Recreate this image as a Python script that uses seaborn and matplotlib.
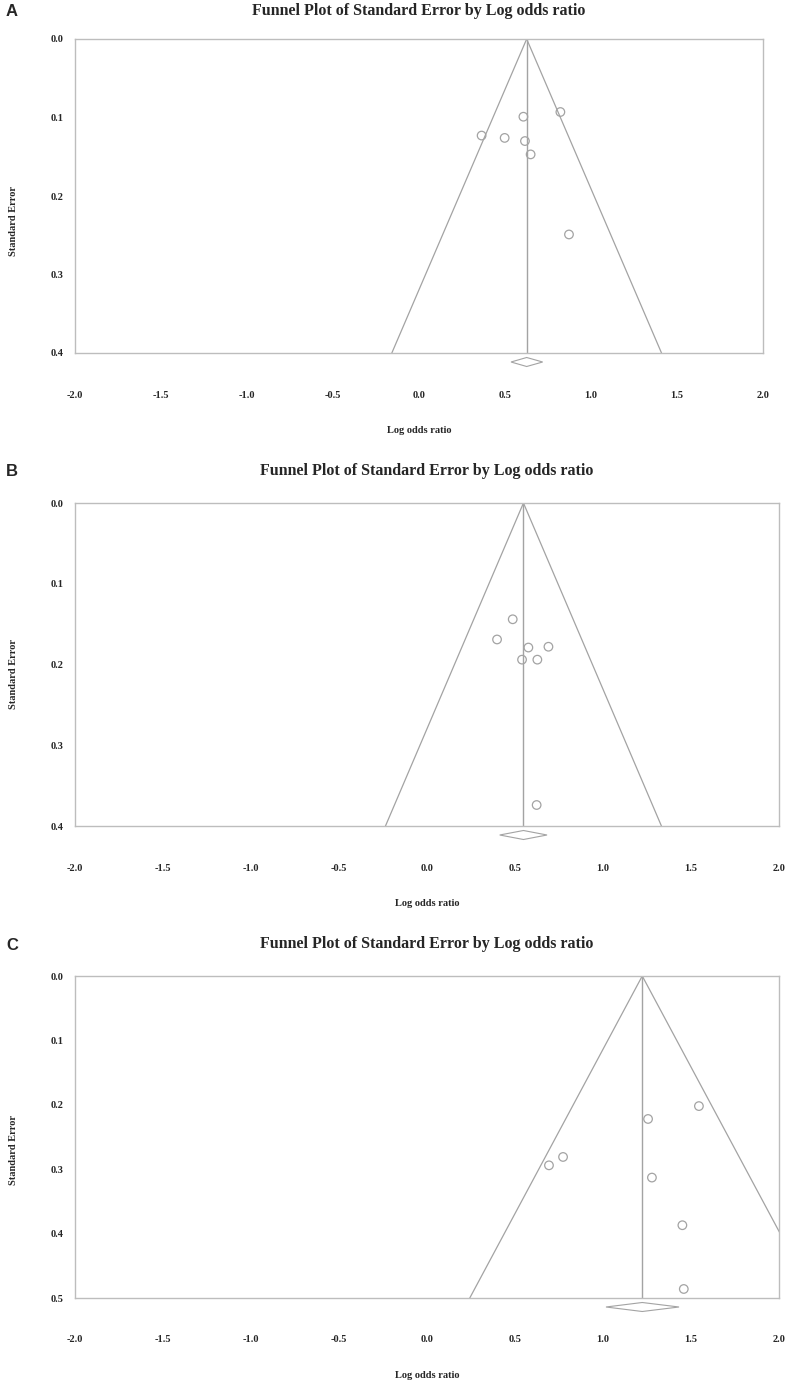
import numpy as np
import pandas as pd
import matplotlib
matplotlib.use("Agg")
import matplotlib.pyplot as plt
import matplotlib.transforms as mtransforms
from matplotlib.patches import Polygon
import seaborn as sns

# study estimates
panel_labels = ["A", "B", "C"]

a_log_or = [0.364, 0.498, 0.607, 0.616, 0.649, 0.822, 0.872]
a_se = [0.123, 0.126, 0.099, 0.130, 0.147, 0.093, 0.249]
a_pooled = 0.626
a_ci = [0.535, 0.719]

b_log_or = [0.487, 0.398, 0.576, 0.690, 0.540, 0.627, 0.623]
b_se = [0.144, 0.169, 0.179, 0.178, 0.194, 0.194, 0.374]
b_pooled = 0.548
b_ci = [0.413, 0.682]

c_log_or = [1.545, 1.256, 1.278, 1.451, 1.459, 0.773, 0.693]
c_se = [0.202, 0.222, 0.313, 0.387, 0.486, 0.281, 0.294]
c_pooled = 1.223
c_ci = [1.017, 1.432]

se_max = [0.4, 0.4, 0.5]
x_ticks = [-2.0, -1.5, -1.0, -0.5, 0.0, 0.5, 1.0, 1.5, 2.0]

TITLE = "Funnel Plot of Standard Error by Log odds ratio"
GREY = "#a3a3a3"
W, H = 788, 1384

sns.set_style("white")
plt.rcParams["font.family"] = ["Liberation Serif", "DejaVu Serif"]
plt.rcParams["font.weight"] = "bold"

fig = plt.figure(figsize=(W / 100, H / 100), dpi=100)

# axes boxes in pixels: left, top, right, bottom
boxes = [(75, 39, 763, 353), (75, 503, 779, 826), (75, 976, 779, 1298)]
title_y = [11, 471, 944]
ylabel_pos = [0.42, 0.47, 0.46]

panels = [
    (a_log_or, a_se, a_pooled, a_ci),
    (b_log_or, b_se, b_pooled, b_ci),
    (c_log_or, c_se, c_pooled, c_ci),
]

for i, (lor, se, pooled, ci) in enumerate(panels):
    l, t, r, b = boxes[i]
    ax = fig.add_axes([l / W, 1 - b / H, (r - l) / W, (b - t) / H])
    ax_h = b - t
    smax = se_max[i]

    df = pd.DataFrame({"lor": lor, "se": se})

    # funnel: pooled estimate +/- 1.96 SE
    se_line = np.array([0.0, smax])
    ax.plot(pooled - 1.96 * se_line, se_line, color=GREY, lw=0.9)
    ax.plot(pooled + 1.96 * se_line, se_line, color=GREY, lw=0.9)
    ax.plot([pooled, pooled], se_line, color=GREY, lw=1.0)

    sns.scatterplot(data=df, x="lor", y="se", ax=ax, s=38, marker="o",
                    facecolor="none", edgecolor=GREY, linewidth=0.9, zorder=3)

    # pooled estimate diamond under the axis
    trans = mtransforms.blended_transform_factory(ax.transData, ax.transAxes)
    yc = -9 / ax_h
    hh = 4.5 / ax_h
    diamond = Polygon([[ci[0], yc], [pooled, yc + hh], [ci[1], yc], [pooled, yc - hh]],
                      closed=True, fill=False, edgecolor=GREY, lw=0.8,
                      transform=trans, clip_on=False)
    ax.add_patch(diamond)

    ax.set_xlim(-2.0, 2.0)
    ax.set_ylim(smax, 0.0)
    ax.set_xticks(x_ticks)
    ax.set_xticklabels([f"{v:.1f}" for v in x_ticks])
    y_ticks = np.round(np.arange(0, smax + 0.001, 0.1), 1)
    ax.set_yticks(y_ticks)
    ax.set_yticklabels([f"{v:.1f}" for v in y_ticks])

    for sp in ax.spines.values():
        sp.set_color("#bdbdbd")
        sp.set_linewidth(1.0)

    ax.tick_params(axis="x", direction="inout", length=4, width=0.8, color=GREY,
                   pad=25, labelsize=7.5)
    ax.tick_params(axis="y", direction="out", length=2, width=0.6, color="#dddddd",
                   pad=6, labelsize=7.5)

    ax.set_xlabel("Log odds ratio", fontsize=7.5, fontweight="bold")
    ax.xaxis.set_label_coords(0.5, -73 / ax_h)
    ax.set_ylabel("Standard Error", fontsize=7.5, fontweight="bold")
    ax.yaxis.set_label_coords(-57 / (r - l), ylabel_pos[i])

    fig.text((l + r) / 2 / W, 1 - title_y[i] / H, TITLE, ha="center", va="center",
             fontsize=11.5, fontweight="bold")
    fig.text(12 / W, 1 - (title_y[i] + 1) / H, panel_labels[i], ha="center", va="center",
             fontsize=12, fontweight="bold", family=["Liberation Sans", "DejaVu Sans"])

fig.savefig("out.png", dpi=100)
plt.close(fig)
